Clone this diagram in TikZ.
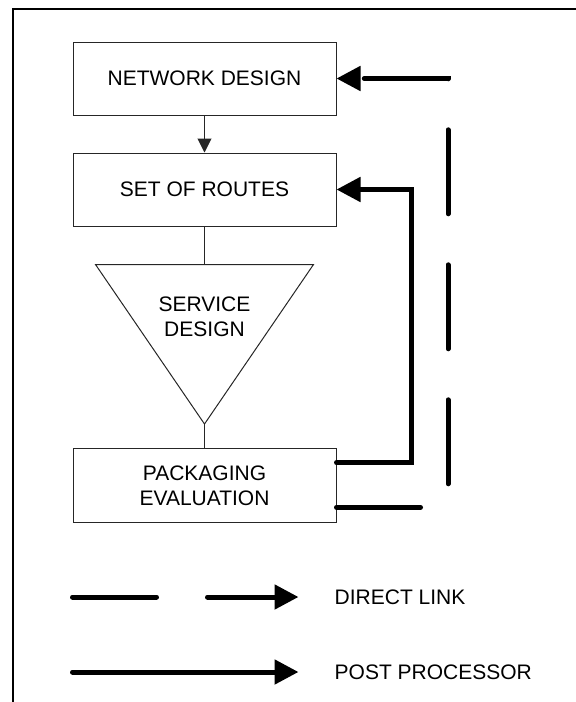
\documentclass[tikz,border=0pt]{standalone}
\usepackage{fontspec}
\setmainfont{Liberation Sans}
\usetikzlibrary{arrows.meta}

\begin{document}
\begin{tikzpicture}[x=1pt, y=-1pt,
    stage/.style={draw=black!85, line width=1pt, minimum width=263pt, minimum height=#1, inner sep=0pt, align=center, font=\fontsize{21}{25}\selectfont},
    stage/.default={73pt},
    lbl/.style={font=\fontsize{21}{25}\selectfont, inner sep=0pt, align=center},
    link/.style={draw=black!85, line width=1pt},
    linkarr/.style={link, -{Triangle[length=14pt,width=14pt]}},
    feed/.style={line width=5pt, line cap=round, -{Triangle[length=24pt,width=24pt]}},
    directlink/.style={feed, dash pattern=on 84pt off 51pt},
    postproc/.style={feed},
]
\useasboundingbox (0,0) rectangle (576,702);
\draw[line width=2.5pt] (13,9) rectangle (600,730);

\node[stage] (net) at (204.5, 78.5) {NETWORK DESIGN};
\node[stage] (routes) at (204.5, 189.5) {SET OF ROUTES};

% service design funnel
\coordinate (svctop) at (204.5, 264.5);
\coordinate (svcapex) at (204.5, 424);
\draw[link] (95.5, 264.5) -- (313.5, 264.5) -- (svcapex) -- cycle;
\node[lbl] (svc) at (204.5, 317) {SERVICE\\DESIGN};

\node[stage=74pt] (pack) at (204.5, 485.3) {PACKAGING\\EVALUATION};

% ===== ARROWS =====
\draw[linkarr] (net) -- (routes);
\draw[link] (routes) -- (svctop);
\draw[link] (svcapex) -- (pack);

\coordinate (dlcorner) at (448, 507.3);
\coordinate (ppcorner) at (411.5, 462.7);
\draw[directlink] (pack.east |- dlcorner) -- (dlcorner) |- (net.east);
\draw[postproc] (pack.east |- ppcorner) -- (ppcorner) |- (routes.east);

% ===== LEGEND =====
\node[lbl, anchor=west] (lgdirect) at (334.5, 597) {DIRECT LINK};
\node[lbl, anchor=west] (lgpost) at (334.5, 672) {POST PROCESSOR};
\coordinate (lgdstart) at (72.5, 597);
\coordinate (lgpstart) at (72.5, 672);
\draw[directlink] (lgdstart) -- ([xshift=-36pt]lgdirect.west);
\draw[postproc] (lgpstart) -- ([xshift=-36pt]lgpost.west);

\end{tikzpicture}
\end{document}
